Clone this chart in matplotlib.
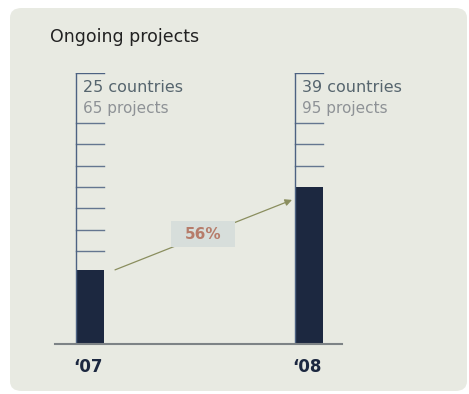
import matplotlib
matplotlib.use("Agg")
import matplotlib.pyplot as plt
from matplotlib.patches import FancyBboxPatch, Rectangle

# Data
years = ["\u201807", "\u201808"]
countries = [25, 39]
projects = [65, 95]
growth_label = "56%"
title = "Ongoing projects"

# Scale of the thermometer-style bars (value units)
y_min, y_max = 12.5, 58.2
tick_step = 3.6

font = ["DejaVu Sans"]

W, H = 469, 394
fig = plt.figure(figsize=(W / 100, H / 100), dpi=100)
fig.patch.set_facecolor("white")

# Rounded background panel
panel = FancyBboxPatch((10 / W, 3 / H), (467 - 10) / W, (386 - 3) / H,
                       boxstyle="round,pad=0,rounding_size=0.025",
                       transform=fig.transFigure, facecolor="#e8eae2",
                       edgecolor="none", zorder=-10)
fig.patches.append(panel)

fig.text(50 / W, 1 - 37 / H, title, fontsize=12.5, color="#222222",
         family=font, va="center", ha="left")

ax = fig.add_axes([55 / W, (H - 344) / H, 287 / W, 271 / H])
ax.set_facecolor("none")
ax.set_xlim(-0.1598, 1.1507)
ax.set_ylim(y_min, y_max)
ax.axis("off")

bar_w = 0.1279
scale_color = "#4d6282"
bar_color = "#1c2840"

# Tick levels, aligned on the second bar's value
levels = []
v = countries[1]
while v > y_min:
    levels.append(v)
    v -= tick_step
v = countries[1] + tick_step
while v < y_max - 2 * tick_step:
    levels.append(v)
    v += tick_step

for i, (c, p) in enumerate(zip(countries, projects)):
    left = i - bar_w / 2
    ax.bar(i, c - y_min, bottom=y_min, width=bar_w, color=bar_color, zorder=3)
    # scale: vertical spine and top bracket
    ax.plot([left, left], [y_min, y_max], color=scale_color, lw=1.0, zorder=4)
    ax.plot([left, left + bar_w], [y_max, y_max], color=scale_color, lw=1.0, zorder=4)
    for lv in levels:
        if lv > c + 0.5:
            ax.plot([left, left + bar_w], [lv, lv], color=scale_color, lw=1.0,
                     alpha=0.85, zorder=2)
    ax.text(left + 0.03, y_max - 2.4, f"{c} countries", fontsize=11.5,
            color="#56656e", family=font, va="center", ha="left")
    ax.text(left + 0.03, y_max - 6.0, f"{p} projects", fontsize=11,
            color="#8e9296", family=font, va="center", ha="left")
    ax.text(i - 0.01, y_min - 3.9, years[i], fontsize=12, fontweight="bold",
            color=bar_color, family=font, va="center", ha="center", clip_on=False)

# Baseline
ax.plot([-0.1598, 1.1507], [y_min, y_min], color="#7d8386", lw=1.5, zorder=5,
        clip_on=False)

# Growth arrow
ax.annotate("", xy=(0.9224, 36.8), xytext=(0.1142, countries[0]),
            arrowprops=dict(arrowstyle="-|>", color="#8a8e5e", lw=0.9,
                            mutation_scale=10, shrinkA=0, shrinkB=0), zorder=6)
ax.add_patch(Rectangle((0.370, 28.88), 0.292, 4.39, facecolor="#d7dedb",
                       edgecolor="none", zorder=7))
ax.text(0.516, 30.95, growth_label, fontsize=11, fontweight="bold",
        color="#b67c6a", family=font, ha="center", va="center", zorder=8)

fig.savefig("out.png", dpi=100, facecolor=fig.get_facecolor())
